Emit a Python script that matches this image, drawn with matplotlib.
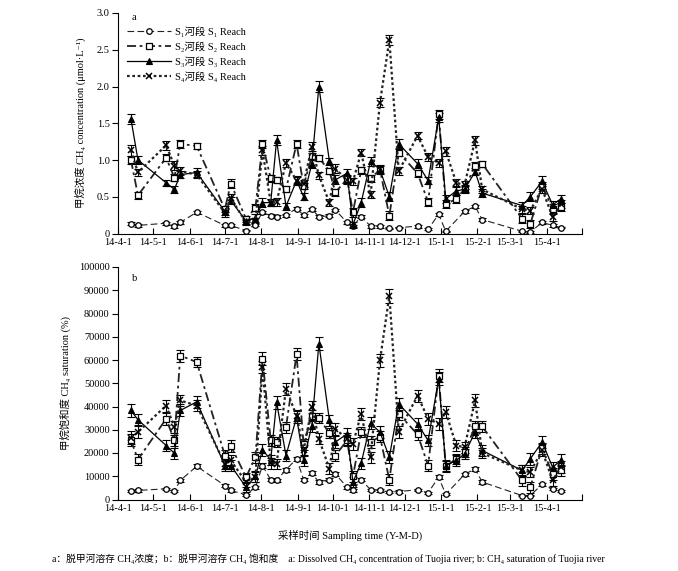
# CH4 concentration / saturation, Tuojia river, four reaches
import numpy as np
import pandas as pd
import matplotlib
matplotlib.use('Agg')
import matplotlib.pyplot as plt
from matplotlib.ticker import FixedLocator, FixedFormatter

plt.rcParams['font.family'] = ['Liberation Serif', 'DejaVu Serif', 'Noto Sans CJK SC']
plt.rcParams['axes.unicode_minus'] = False

# ----------------------------------------------------------------------------------
# data
# ----------------------------------------------------------------------------------
dates = ['2014-04-12', '2014-04-18', '2014-05-12', '2014-05-19', '2014-05-24',
         '2014-06-07', '2014-07-01', '2014-07-06', '2014-07-19', '2014-07-27',
         '2014-08-02', '2014-08-09', '2014-08-14', '2014-08-22', '2014-08-31',
         '2014-09-06', '2014-09-13', '2014-09-19', '2014-09-28', '2014-10-03',
         '2014-10-13', '2014-10-18', '2014-10-25', '2014-11-02', '2014-11-10',
         '2014-11-18', '2014-11-26', '2014-12-12', '2014-12-21', '2014-12-30',
         '2015-01-05', '2015-01-14', '2015-01-21', '2015-01-30', '2015-02-05',
         '2015-03-11', '2015-03-18', '2015-03-28', '2015-04-06', '2015-04-13']

# (a) concentration, umol/L
conc_s1 = [0.13, 0.11, 0.14, 0.10, 0.15, 0.29, 0.11, 0.11, 0.04, 0.12,
           0.29, 0.24, 0.23, 0.25, 0.34, 0.25, 0.33, 0.23, 0.24, 0.32,
           0.15, 0.10, 0.23, 0.10, 0.10, 0.07, 0.08, 0.10, 0.06, 0.26,
           0.03, np.nan, 0.30, 0.37, 0.19, 0.03, 0.02, 0.15, 0.11, 0.08]
conc_s2 = [1.00, 0.52, 1.03, 0.76, 1.22, 1.19, 0.33, 0.68, 0.20, 0.35,
           1.22, 0.75, 0.73, 0.60, 1.22, 0.65, 1.05, 1.03, 0.85, 0.56,
           0.74, 0.29, 0.86, 0.75, 0.87, 0.24, 1.10, 0.82, 0.43, 1.62,
           0.40, 0.47, 0.61, 0.92, 0.95, 0.20, 0.13, 0.65, 0.34, 0.36]
conc_s3 = [1.56, 1.00, 0.69, 0.60, 0.80, 0.83, 0.30, 0.45, 0.17, 0.21,
           0.42, 0.42, 1.27, 0.37, 0.72, 0.50, 0.95, 2.00, 0.98, 0.73,
           0.82, 0.12, 0.42, 0.98, 0.87, 0.50, 1.22, 0.95, 0.72, 1.58,
           0.47, 0.58, 0.60, 0.84, 0.55, 0.38, 0.50, 0.71, 0.39, 0.47]
conc_s4 = [1.13, 0.83, 1.20, 0.92, 0.85, 0.80, 0.28, 0.48, 0.15, 0.17,
           1.13, 0.42, 0.43, 0.96, 0.72, 0.68, 1.18, 0.79, 0.42, 0.88,
           0.73, 0.71, 1.10, 0.53, 1.78, 2.63, 0.85, 1.33, 1.04, 0.96,
           1.12, 0.69, 0.66, 1.27, 0.60, 0.33, 0.31, 0.61, 0.22, 0.40]
conc_e1 = [0.02, 0.02, 0.02, 0.02, 0.02, 0.02, 0.02, 0.02, 0.01, 0.02,
           0.02, 0.02, 0.02, 0.02, 0.02, 0.02, 0.02, 0.02, 0.02, 0.02,
           0.02, 0.01, 0.02, 0.02, 0.02, 0.01, 0.01, 0.02, 0.01, 0.02,
           0.01, np.nan, 0.02, 0.02, 0.02, 0.01, 0.01, 0.02, 0.02, 0.01]
conc_e2 = [0.06, 0.05, 0.05, 0.05, 0.05, 0.04, 0.04, 0.06, 0.04, 0.05,
           0.05, 0.05, 0.04, 0.04, 0.05, 0.04, 0.05, 0.04, 0.04, 0.05,
           0.05, 0.06, 0.05, 0.05, 0.05, 0.06, 0.05, 0.05, 0.05, 0.06,
           0.05, 0.05, 0.05, 0.05, 0.04, 0.06, 0.05, 0.05, 0.06, 0.06]
conc_e3 = [0.07, 0.05, 0.04, 0.05, 0.05, 0.06, 0.05, 0.05, 0.04, 0.05,
           0.06, 0.05, 0.07, 0.05, 0.06, 0.05, 0.06, 0.07, 0.05, 0.06,
           0.06, 0.04, 0.06, 0.06, 0.06, 0.06, 0.06, 0.06, 0.05, 0.06,
           0.06, 0.05, 0.05, 0.05, 0.05, 0.05, 0.06, 0.07, 0.05, 0.06]
conc_e4 = [0.07, 0.05, 0.06, 0.06, 0.05, 0.05, 0.05, 0.06, 0.04, 0.04,
           0.06, 0.05, 0.05, 0.06, 0.05, 0.05, 0.06, 0.05, 0.05, 0.06,
           0.05, 0.05, 0.05, 0.05, 0.06, 0.07, 0.06, 0.05, 0.06, 0.06,
           0.06, 0.05, 0.05, 0.06, 0.05, 0.05, 0.05, 0.06, 0.05, 0.05]

# (b) saturation, %
sat_s1 = [3600, 3900, 4600, 3600, 8200, 14300, 6000, 3900, 2000, 5300,
          14600, 8500, 8200, 12800, 17500, 8600, 11300, 7500, 8600, 11000,
          5300, 3900, 8500, 4200, 3900, 3200, 3400, 4200, 2900, 9600,
          2200, np.nan, 10800, 13200, 7500, 1700, 1700, 6500, 4600, 3600]
sat_s2 = [25500, 17200, 34700, 25400, 61900, 59100, 18900, 23200, 9600, 18200,
          60500, 25400, 24700, 31100, 62400, 23700, 36100, 35100, 28500, 18900,
          25400, 9900, 29000, 24700, 27000, 8500, 36800, 28000, 14600, 53300,
          14200, 17500, 20400, 31400, 31400, 8200, 5300, 22000, 11000, 12500]
sat_s3 = [38300, 34300, 23200, 19900, 38300, 42000, 14600, 14600, 5300, 10000,
          21400, 17000, 41900, 18900, 35400, 16800, 31800, 67000, 34000, 24700,
          28200, 7500, 15600, 32800, 29000, 18200, 41100, 32500, 25400, 52000,
          14600, 16800, 19600, 29000, 21100, 12500, 17500, 24700, 13900, 16800]
sat_s4 = [26500, 29000, 40400, 31100, 42600, 40400, 15300, 16800, 7500, 9600,
          56900, 15600, 15300, 47600, 36100, 21100, 39700, 26100, 13200, 30400,
          26000, 23900, 36800, 18200, 59800, 87700, 29000, 44700, 34700, 32500,
          37600, 23200, 22500, 42600, 20000, 12500, 11800, 21100, 8200, 14000]
sat_e1 = [500, 500, 500, 500, 800, 900, 600, 500, 400, 600,
          900, 700, 700, 800, 900, 700, 800, 700, 700, 800,
          600, 500, 700, 500, 500, 500, 500, 500, 500, 800,
          400, np.nan, 800, 900, 700, 400, 400, 600, 500, 500]
sat_e2 = [2500, 2300, 2500, 2400, 2600, 2200, 2200, 2600, 2000, 2300,
          2800, 2300, 2200, 2300, 2600, 2200, 2500, 2300, 2200, 2300,
          2300, 2300, 2300, 2400, 2300, 2400, 2400, 2300, 2400, 2800,
          2300, 2200, 2200, 2300, 2200, 2400, 2300, 2300, 2600, 2500]
sat_e3 = [2800, 2400, 2200, 2300, 2600, 2700, 2200, 2200, 2000, 2300,
          2600, 2300, 2800, 2400, 2600, 2300, 2600, 2800, 2400, 2500,
          2500, 2000, 2400, 2600, 2500, 2500, 2600, 2600, 2300, 2800,
          2300, 2300, 2300, 2400, 2300, 2400, 2500, 2700, 2300, 2600]
sat_e4 = [2800, 2400, 2600, 2600, 2500, 2500, 2300, 2500, 2000, 2100,
          2700, 2300, 2300, 2600, 2500, 2300, 2600, 2400, 2300, 2600,
          2400, 2400, 2500, 2300, 2700, 3000, 2600, 2600, 2600, 2600,
          2600, 2300, 2300, 2700, 2300, 2300, 2300, 2600, 2300, 2400]

month_ticks = ['2014-04-01', '2014-05-01', '2014-06-01', '2014-07-01', '2014-08-01',
               '2014-09-01', '2014-10-01', '2014-11-01', '2014-12-01', '2015-01-01',
               '2015-02-01', '2015-03-01', '2015-04-01', '2015-05-01']
month_labels = ['14-4-1', '14-5-1', '14-6-1', '14-7-1', '14-8-1', '14-9-1', '14-10-1',
                '14-11-1', '14-12-1', '15-1-1', '15-2-1', '15-3-1', '15-4-1', '']

names = ['S₁河段 S₁ Reach', 'S₂河段 S₂ Reach', 'S₃河段 S₃ Reach', 'S₄河段 S₄ Reach']

# ----------------------------------------------------------------------------------
# styles
# ----------------------------------------------------------------------------------
styles = [
    dict(color='#222222', lw=0.8, dashes=(6, 3), marker='o', ms=4,
         mfc='white', mec='black', mew=0.9),
    dict(color='#222222', lw=1.3, dashes=(5, 2, 1.5, 2), marker='s', ms=4,
         mfc='white', mec='black', mew=0.9),
    dict(color='black', lw=0.9, ls='-', marker='^', ms=4,
         mfc='black', mec='black', mew=0.8),
    dict(color='#222222', lw=1.6, dashes=(1.2, 1.2), marker='x', ms=5,
         mfc='black', mec='black', mew=1.1),
]

t = pd.to_datetime(pd.Series(dates))
xt = pd.to_datetime(pd.Series(month_ticks))

fig = plt.figure(figsize=(6.78, 5.71), dpi=100)
ax_a = fig.add_axes([118 / 678, 1 - 233.5 / 571, 464 / 678, 220.5 / 571])
ax_b = fig.add_axes([118 / 678, 1 - 499.5 / 571, 464 / 678, 232.5 / 571])

panels = [
    (ax_a, [conc_s1, conc_s2, conc_s3, conc_s4], [conc_e1, conc_e2, conc_e3, conc_e4]),
    (ax_b, [sat_s1, sat_s2, sat_s3, sat_s4], [sat_e1, sat_e2, sat_e3, sat_e4]),
]

fs = 7.5
for ax, series, errs in panels:
    handles = []
    for vals, err, st in zip(series, errs, styles):
        v = np.array(vals, dtype=float)
        e = np.array(err, dtype=float)
        ok = np.isfinite(v)
        ax.errorbar(t[ok], v[ok], yerr=e[ok], fmt='none', ecolor='black',
                    elinewidth=0.8, capsize=3.2, capthick=0.8, zorder=2)
        h, = ax.plot(t[ok], v[ok], zorder=3, **st)
        handles.append(h)

    ax.set_xlim(xt.iloc[0], xt.iloc[-1])
    ax.xaxis.set_major_locator(FixedLocator(matplotlib.dates.date2num(xt)))
    ax.xaxis.set_major_formatter(FixedFormatter(month_labels))
    ax.tick_params(axis='x', direction='in', length=4, width=0.8,
                   labelsize=fs, pad=3)
    ax.tick_params(axis='y', direction='out', length=4, width=0.8,
                   labelsize=fs, pad=2)
    for s in ['top', 'right']:
        ax.spines[s].set_visible(False)
    for s in ['left', 'bottom']:
        ax.spines[s].set_linewidth(0.8)

ax_a.set_ylim(0, 3.0)
ax_a.set_yticks([0, 0.5, 1.0, 1.5, 2.0, 2.5, 3.0])
ax_a.set_yticklabels(['0', '0.5', '1.0', '1.5', '2.0', '2.5', '3.0'])
ax_a.set_ylabel('甲烷浓度 CH₄ concentration (μmol·L⁻¹)', fontsize=fs, labelpad=8)
ax_a.text(0.03, 1.0, 'a', transform=ax_a.transAxes, fontsize=fs, va='top')
ax_a.legend(handles, names, loc='upper left', bbox_to_anchor=(0.01, 0.96),
            frameon=False, fontsize=fs, handlelength=4.2, handletextpad=0.4,
            labelspacing=0.45, borderaxespad=0)

ax_b.set_ylim(0, 100000)
ax_b.set_yticks(np.arange(0, 100001, 10000))
ax_b.set_ylabel('甲烷饱和度 CH₄ saturation (%)', fontsize=fs, labelpad=6)
ax_b.text(0.03, 0.97, 'b', transform=ax_b.transAxes, fontsize=fs, va='top')
ax_b.set_xlabel('采样时间 Sampling time (Y-M-D)', fontsize=fs, labelpad=12)

fig.text(0.485, 1 - 559 / 571,
         'a：脱甲河溶存 CH₄浓度；b：脱甲河溶存 CH₄ 饱和度    '
         'a: Dissolved CH₄ concentration of Tuojia river; b: CH₄ saturation of Tuojia river',
         ha='center', va='center', fontsize=7)

fig.savefig('out.png', dpi=100)
